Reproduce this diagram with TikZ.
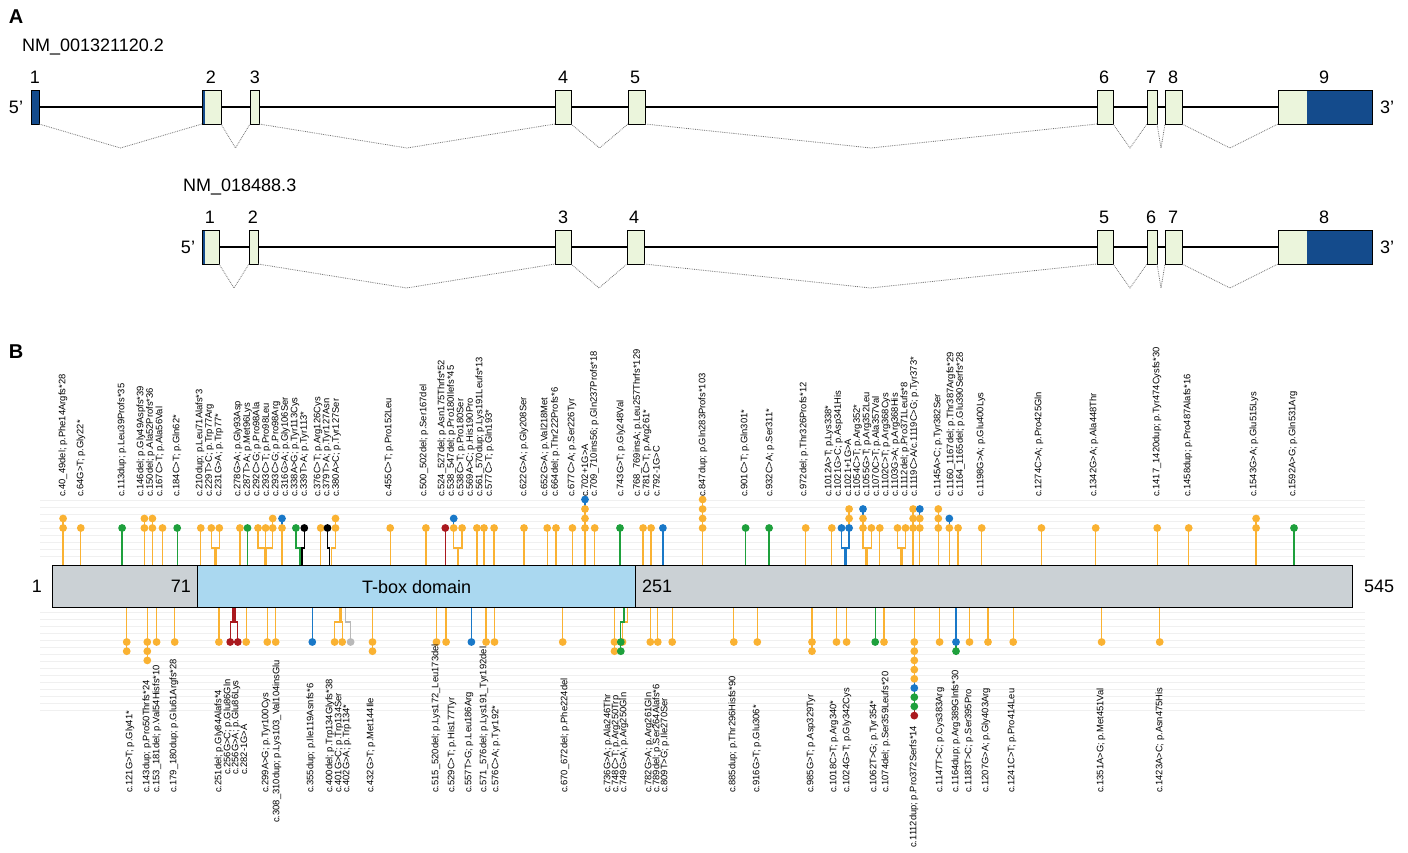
\documentclass[tikz,border=0pt]{standalone}
\usepackage{fontspec}
\setmainfont{Liberation Sans}
\usetikzlibrary{calc}
\definecolor{cO}{RGB}{250,178,50}
\definecolor{cG}{RGB}{30,160,60}
\definecolor{cB}{RGB}{25,120,200}
\definecolor{cR}{RGB}{170,25,30}
\definecolor{cK}{RGB}{0,0,0}
\definecolor{cY}{RGB}{185,185,185}
\definecolor{exg}{RGB}{235,245,220}
\definecolor{exb}{RGB}{20,75,140}
\definecolor{tbox}{RGB}{170,216,240}
\definecolor{pgray}{RGB}{203,209,213}
\newcommand\splice[3]{\draw[splice] (#1.south east) -- ($(#1.south east)!.5!(#2.south west)+(0,#3)$) -- (#2.south west);}
\newcommand\toplp[3]{%
  \foreach \c [count=\i] in {#3}{%
    \pgfmathsetmacro\ya{528-9.5*(\i-1)}%
    \pgfmathsetmacro\yb{528-9.5*(\i-2)}%
    \ifnum\i=1\relax
      \draw[stem,\c] (#1,565) -- (#1,548) -- (#2,548) -- (#2,\ya);%
    \else
      \draw[stem,\c] (#2,\yb) -- (#2,\ya);%
    \fi}%
  \foreach \c [count=\i] in {#3}{%
    \pgfmathsetmacro\ya{528-9.5*(\i-1)}%
    \fill[\c] (#2,\ya) circle (3.9);}%
}
\newcommand\botlp[3]{%
  \foreach \c [count=\i] in {#3}{%
    \pgfmathsetmacro\ya{642+9.2*(\i-1)}%
    \pgfmathsetmacro\yb{642+9.2*(\i-2)}%
    \ifnum\i=1\relax
      \draw[stem,\c] (#1,607) -- (#1,622) -- (#2,622) -- (#2,\ya);%
    \else
      \draw[stem,\c] (#2,\yb) -- (#2,\ya);%
    \fi}%
  \foreach \c [count=\i] in {#3}{%
    \pgfmathsetmacro\ya{642+9.2*(\i-1)}%
    \fill[\c] (#2,\ya) circle (3.9);}%
}
\begin{document}
\begin{tikzpicture}[x=1pt,y=-1pt,
  exon/.style={draw, line width=0.7pt, fill=exg, inner sep=0pt, outer sep=0pt, minimum height=34pt, anchor=north west},
  splice/.style={densely dotted, line width=0.8pt, black!55},
  stem/.style={line width=1.3pt},
  labt/.style={rotate=90, anchor=west, inner sep=0pt, font=\fontsize{9.4}{10}\selectfont},
  big/.style={font=\fontsize{18}{20}\selectfont, inner sep=0pt},
  guide/.style={black!6, line width=0.5pt},
  panel/.style={font=\bfseries\fontsize{20}{22}\selectfont, inner sep=0pt}]
\useasboundingbox (0,0) rectangle (1408,853);
% ---------------- Panel A ----------------
\node[panel] (pA) at (16,17) {A};
\node[big, anchor=west] (nm1) at (22,47) {NM\_001321120.2};
\draw[line width=2.4pt] (39,107) -- (1278,107);
\node[exon, fill=exb, minimum width=8pt] (a1) at (31,90) {};
\node[exon, minimum width=19pt, path picture={\fill[exb] (path picture bounding box.north west) rectangle ([xshift=3pt]path picture bounding box.south west);}] (a2) at (202,90) {};
\node[exon, minimum width=9pt] (a3) at (250,90) {};
\node[exon, minimum width=16pt] (a4) at (555,90) {};
\node[exon, minimum width=17pt] (a5) at (628,90) {};
\node[exon, minimum width=16pt] (a6) at (1097,90) {};
\node[exon, minimum width=10pt] (a7) at (1147,90) {};
\node[exon, minimum width=17pt] (a8) at (1165,90) {};
\node[exon, minimum width=94pt, path picture={\fill[exb] ([xshift=29pt]path picture bounding box.north west) rectangle (path picture bounding box.south east);}] (a9) at (1278,90) {};
\splice{a1}{a2}{24}\splice{a2}{a3}{24}\splice{a3}{a4}{24}\splice{a4}{a5}{24}
\splice{a5}{a6}{24}\splice{a6}{a7}{24}\splice{a7}{a8}{24}\splice{a8}{a9}{24}
\node[big] (la1) at (35,77) {1};
\node[big] (la2) at (211,77) {2};
\node[big] (la3) at (255,77) {3};
\node[big] (la4) at (563,77) {4};
\node[big] (la5) at (635,77) {5};
\node[big] (la6) at (1104,77) {6};
\node[big] (la7) at (1151,77) {7};
\node[big] (la8) at (1173,77) {8};
\node[big] (la9) at (1324,77) {9};
\node[big] (fa5) at (16,107) {5'};
\node[big] (fa3) at (1387,107) {3'};
\node[big, anchor=west] (nm2) at (183,187) {NM\_018488.3};
\draw[line width=2.4pt] (219,247) -- (1278,247);
\node[exon, minimum width=17pt, minimum height=34pt, path picture={\fill[exb] (path picture bounding box.north west) rectangle ([xshift=3pt]path picture bounding box.south west);}] (b1) at (202,230) {};
\node[exon, minimum width=9pt] (b2) at (249,230) {};
\node[exon, minimum width=16pt] (b3) at (555,230) {};
\node[exon, minimum width=17pt] (b4) at (627,230) {};
\node[exon, minimum width=16pt] (b5) at (1097,230) {};
\node[exon, minimum width=10pt] (b6) at (1147,230) {};
\node[exon, minimum width=17pt] (b7) at (1165,230) {};
\node[exon, minimum width=94pt, path picture={\fill[exb] ([xshift=29pt]path picture bounding box.north west) rectangle (path picture bounding box.south east);}] (b8) at (1278,230) {};
\splice{b1}{b2}{24}\splice{b2}{b3}{24}\splice{b3}{b4}{24}\splice{b4}{b5}{24}
\splice{b5}{b6}{24}\splice{b6}{b7}{24}\splice{b7}{b8}{24}
\node[big] (lb1) at (210,217) {1};
\node[big] (lb2) at (253,217) {2};
\node[big] (lb3) at (563,217) {3};
\node[big] (lb4) at (634,217) {4};
\node[big] (lb5) at (1104,217) {5};
\node[big] (lb6) at (1151,217) {6};
\node[big] (lb7) at (1173,217) {7};
\node[big] (lb8) at (1324,217) {8};
\node[big] (fb5) at (188,247) {5'};
\node[big] (fb3) at (1387,247) {3'};
% ---------------- Panel B ----------------
\node[panel] (pB) at (16,352) {B};
\foreach \yy in {500,507,...,560} \draw[guide] (40,\yy) -- (1365,\yy);
\foreach \yy in {612,619,...,712} \draw[guide] (40,\yy) -- (1365,\yy);
% top lollipops
\toplp{63.1}{63.1}{cO,cO}
\toplp{80.8}{80.8}{cO}
\toplp{122.1}{122.1}{cG}
\toplp{144.4}{144.4}{cO,cO}
\toplp{152.4}{152.4}{cO,cO}
\toplp{162.5}{162.5}{cO}
\toplp{177.2}{177.2}{cG}
\toplp{200.8}{200.8}{cO}
\toplp{214.5}{211.3}{cO}\toplp{216}{219.3}{cO}
\toplp{239.9}{239.9}{cO}
\toplp{247.5}{247.5}{cG}
\toplp{264.5}{258}{cO}\toplp{265.6}{265.6}{cO}\toplp{266.7}{272.7}{cO,cO}
\toplp{282}{282}{cO,cB}
\toplp{300}{295.9}{cG}\toplp{302}{304.3}{cK}
\toplp{320.7}{320.7}{cO}
\toplp{329.5}{327.5}{cK}\toplp{331.5}{335.5}{cO,cO}
\toplp{390.2}{390.2}{cO}
\toplp{425.9}{425.9}{cO}
\toplp{445.3}{445.3}{cR}
\toplp{457.3}{453.7}{cO,cB}\toplp{458.8}{462.1}{cO}
\toplp{476.9}{476.9}{cO}
\toplp{484}{484}{cO}
\toplp{494.1}{494.1}{cO}
\toplp{524}{524}{cO}
\toplp{547.2}{547.2}{cO}
\toplp{556}{556}{cO}
\toplp{572.4}{572.4}{cO}
\toplp{585}{585}{cO,cO,cO,cB}
\toplp{594.7}{594.7}{cO}
\toplp{620}{620}{cG}
\toplp{643.1}{643.1}{cO}
\toplp{651.1}{651.1}{cO}
\toplp{662.9}{662.9}{cB}
\toplp{702.6}{702.6}{cO,cO,cO,cO}
\toplp{745.6}{745.6}{cG}
\toplp{769.1}{769.1}{cG}
\toplp{805.7}{805.7}{cO}
\toplp{831.8}{831.8}{cO}
\toplp{844.5}{841.5}{cB}\toplp{846}{849.1}{cB,cO,cO}
\toplp{866}{863}{cO,cO,cB}\toplp{867.5}{871.4}{cO}
\toplp{879.8}{879.8}{cO}
\toplp{900.5}{897.5}{cO}\toplp{902}{905.5}{cO}
\toplp{913.1}{913.1}{cO,cO,cO}
\toplp{919.8}{919.8}{cO,cO,cB}
\toplp{938.3}{938.3}{cO,cO,cO}
\toplp{949.3}{949.3}{cO,cB}
\toplp{958.1}{958.1}{cO}
\toplp{981.7}{981.7}{cO}
\toplp{1041.4}{1041.4}{cO}
\toplp{1095.7}{1095.7}{cO}
\toplp{1157.2}{1157.2}{cO}
\toplp{1188.7}{1188.7}{cO}
\toplp{1256.1}{1256.1}{cO,cO}
\toplp{1294}{1294}{cG}
% bottom lollipops
\botlp{126.7}{126.7}{cO,cO}
\botlp{147.3}{147.3}{cO,cO,cO}
\botlp{156.6}{156.6}{cO}
\botlp{174.7}{174.7}{cO}
\botlp{218.9}{218.9}{cO}
\botlp{233}{230.2}{cR}\botlp{235}{237.8}{cR}
\botlp{246.2}{246.2}{cO}
\botlp{267.3}{267.3}{cO}
\botlp{275.7}{275.7}{cO}
\botlp{312.3}{312.3}{cB}
\botlp{339.5}{334.6}{cO}\botlp{341}{342.2}{cO}\botlp{345.5}{350.6}{cY}
\botlp{372.5}{372.5}{cO,cO}
\botlp{436.5}{436.5}{cO}
\botlp{446.1}{446.1}{cO}
\botlp{471.4}{471.4}{cB}
\botlp{486.1}{486.1}{cO}
\botlp{494.5}{494.5}{cO}
\botlp{562.7}{562.7}{cO}
\botlp{614.5}{614.5}{cO,cO}
\botlp{627.5}{622.5}{cO}
\botlp{624}{620.8}{cG,cG}
\botlp{650.3}{650.3}{cO}
\botlp{657.8}{657.8}{cO}
\botlp{672.2}{672.2}{cO}
\botlp{733.8}{733.8}{cO}
\botlp{757.3}{757.3}{cO}
\botlp{812}{812}{cO,cO}
\botlp{836.5}{836.5}{cO}
\botlp{846.6}{846.6}{cO}
\botlp{875.2}{875.2}{cG}
\botlp{884}{884}{cO}
\botlp{914.3}{914.3}{cO,cO,cO,cO,cO,cB,cG,cG,cR}
\botlp{939.6}{939.6}{cO}
\botlp{956}{956}{cB,cG}
\botlp{969.5}{969.5}{cO}
\botlp{988}{988}{cO}
\botlp{1013.2}{1013.2}{cO}
\botlp{1101.6}{1101.6}{cO}
\botlp{1159.7}{1159.7}{cO}
% protein bar
\node[draw, line width=1.3pt, fill=pgray, minimum width=1300pt, minimum height=42pt, inner sep=0pt, anchor=north west] (bar) at (52,565) {};
\node[draw, line width=1.3pt, fill=tbox, minimum width=438pt, minimum height=42pt, inner sep=0pt, anchor=north west] (tb) at (197,565) {};
\node[big] (tbt) at (tb.center) {T-box domain};
\node[big, anchor=east] (n71) at (191,586) {71};
\node[big, anchor=west] (n251) at (642,586) {251};
\node[big] (n1b) at (37,586) {1};
\node[big, anchor=west] (n545) at (1364,586) {545};
% top labels
\foreach \x/\t [count=\k] in {
63/c.40\_49del; p.Phe14Argfs*28,
81/c.64G>T; p.Gly22*,
122/c.113dup; p.Leu39Profs*35,
141/c.146del; p.Gly49Aspfs*39,
150.5/c.150del; p.Ala52Profs*36,
160/c.167C>T; p.Ala56Val,
177/c.184C>T; p.Gln62*,
200/c.210dup; p.Leu71Alafs*3,
209.5/c.229T>C; p.Trp77Arg,
219/c.231G>A; p.Trp77*,
238/c.278G>A; p.Gly93Asp,
247.5/c.287T>A; p.Met96Lys,
257/c.292C>G; p.Pro98Ala,
266.5/c.293C>T; p.Pro98Leu,
276/c.293C>G; p.Pro98Arg,
285.5/c.316G>A; p.Gly106Ser,
295/c.338A>G; p.Tyr113Cys,
304.5/c.339T>A; p.Tyr113*,
318/c.376C>T; p.Arg126Cys,
327/c.379T>A; p.Tyr127Asn,
336.5/c.380A>C; p.Tyr127Ser,
389/c.455C>T; p.Pro152Leu,
424/c.500\_502del; p.Ser167del,
442/c.524\_527del; p.Asn175Thrfs*52,
451.5/c.538\_547del; p.Pro180Ilefs*45,
461/c.538C>T; p.Pro180Ser,
470.5/c.569A>C; p.His190Pro,
480/c.561\_570dup; p.Lys191Leufs*13,
489.5/c.577C>T; p.Gln193*,
524/c.622G>A; p.Gly208Ser,
545/c.652G>A; p.Val218Met,
555.5/c.664del; p.Thr222Profs*6,
572/c.677C>A; p.Ser226Tyr,
585/c.702+1G>A,
594.5/c.709\_710ins56; p.Gln237Profs*18,
621/c.743G>T; p.Gly248Val,
637.5/c.768\_769insA; p.Leu257Thrfs*129,
647/c.781C>T; p.Arg261*,
656.5/c.792-1G>C,
703/c.847dup; p.Gln283Profs*103,
745/c.901C>T; p.Gln301*,
770/c.932C>A; p.Ser311*,
804/c.972del; p.Thr326Profs*12,
829/c.1012A>T; p.Lys338*,
838.5/c.1021G>C; p.Asp341His,
848/c.1021+1G>A,
857.5/c.1054C>T; p.Arg352*,
867/c.1055G>T; p.Arg352Leu,
876.5/c.1070C>T; p.Ala357Val,
886/c.1102C>T; p.Arg368Cys,
895.5/c.1103G>A; p.Arg368His,
905/c.1112del; p.Pro371Leufs*8,
938/c.1145A>C; p.Tyr382Ser,
951/c.1160\_1167del; p.Thr387Argfs*29,
960.5/c.1164\_1165del; p.Glu390Serfs*28,
981/c.1198G>A; p.Glu400Lys,
1039/c.1274C>A; p.Pro425Gln,
1094/c.1342G>A; p.Ala448Thr,
1157/c.1417\_1420dup; p.Tyr474Cysfs*30,
1188/c.1458dup; p.Pro487Alafs*16,
1254/c.1543G>A; p.Glu515Lys,
1293/c.1592A>G; p.Gln531Arg}
  \node[labt] (t\k) at (\x,497) {\t};
\node[labt] (t1119) at (914.5,497) {c.1119C>A/c.1119C>G; p.Tyr373*};
% bottom labels
\foreach \x/\s/\t [count=\k] in {
130/793/c.121G>T; p.Gly41*,
147/793/c.143dup; p.Pro50Thrfs*24,
157/793/c.153\_181del; p.Val54Hisfs*10,
174/793/c.179\_180dup; p.Glu61Argfs*28,
219/793/c.251del; p.Gly84Alafs*4,
228/775/c.256G>C; p.Glu86Gln,
236/775/c.256G>A; p.Glu86Lys,
244/775/c.282-1G>A,
266/793/c.299A>G; p.Tyr100Cys,
277/823/c.308\_310dup; p.Lys103\_Val104insGlu,
311/793/c.355dup; p.Ile119Asnfs*6,
330/793/c.400del; p.Trp134Glyfs*38,
339/793/c.401G>C; p.Trp134Ser,
347/793/c.402G>A; p.Trp134*,
371/793/c.432G>T; p.Met144Ile,
436/793/c.515\_520del; p.Lys172\_Leu173del,
452/793/c.529C>T; p.His177Tyr,
469/793/c.557T>G; p.Leu186Arg,
484/793/c.571\_576del; p.Lys191\_Tyr192del,
496/793/c.576C>A; p.Tyr192*,
565/793/c.670\_672del; p.Phe224del,
608/793/c.736G>A; p.Ala246Thr,
616/793/c.748C>T; p.Arg250Trp,
624/793/c.749G>A; p.Arg250Gln,
649/793/c.782G>A; p.Arg261Gln,
657/793/c.789del; p.Ser264Alafs*6,
665/793/c.809T>G; p.Ile270Ser,
733/793/c.885dup; p.Thr296Hisfs*90,
757/793/c.916G>T; p.Glu306*,
811/793/c.985G>T; p.Asp329Tyr,
834/793/c.1018C>T; p.Arg340*,
847/793/c.1024G>T; p.Gly342Cys,
874/793/c.1062T>G; p.Tyr354*,
886/793/c.1074del; p.Ser359Leufs*20,
914/848/c.1112dup; p.Pro372Serfs*14,
940/793/c.1147T>C; p.Cys383Arg,
956/793/c.1164dup; p.Arg389Glnfs*30,
969/793/c.1183T>C; p.Ser395Pro,
986/793/c.1207G>A; p.Gly403Arg,
1012/793/c.1241C>T; p.Pro414Leu,
1101/793/c.1351A>G; p.Met451Val,
1160/793/c.1423A>C; p.Asn475His}
  \node[labt] (u\k) at (\x,\s) {\t};
\end{tikzpicture}
\end{document}
